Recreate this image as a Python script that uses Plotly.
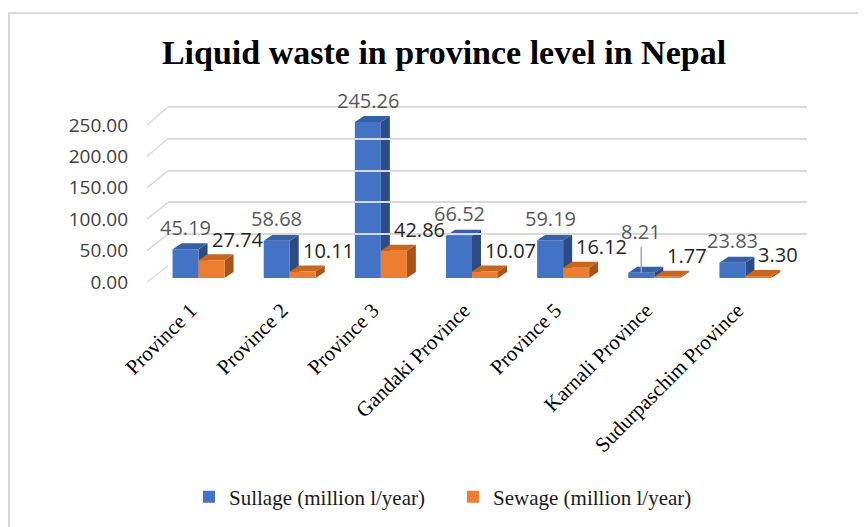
import plotly.graph_objects as go

provinces = ["Province 1", "Province 2", "Province 3", "Gandaki Province",
             "Province 5", "Karnali Province", "Sudurpaschim Province"]
sullage = [45.19, 58.68, 245.26, 66.52, 59.19, 8.21, 23.83]
sewage = [27.74, 10.11, 42.86, 10.07, 16.12, 1.77, 3.30]
y_ticks = [0, 50, 100, 150, 200, 250]

# the page body adds an 8px margin, so target pixels are shifted by OFF
W, H = 866, 527
OFF = 8
L, R, T, B = 153 - OFF, 810 - OFF, 98 - OFF, 284 - OFF
PX_PER_UNIT = 0.636


def px_x(p):
    return (p - OFF - L) / (R - L)


def px_y(p):
    return (B - (p - OFF)) / (B - T)


cat_px = (791 - 153) / len(provinces)
bar_w = 26 / cat_px
depth_x = 9 / cat_px
depth_y = 6 / PX_PER_UNIT

series = [
    ("Sullage (million l/year)", sullage, -bar_w, "#4472C4", "#3660A8", "#2C4C85"),
    ("Sewage (million l/year)", sewage, 0.0, "#ED7D31", "#C8661F", "#A85419"),
]

fig = go.Figure()

for name, values, off, front_c, top_c, side_c in series:
    fx, fy, tx, ty, sx, sy = [], [], [], [], [], []
    for i, v in enumerate(values):
        x0 = i + off
        x1 = x0 + bar_w
        fx += [x0, x1, x1, x0, x0, None]
        fy += [0, 0, v, v, 0, None]
        tx += [x0, x1, x1 + depth_x, x0 + depth_x, x0, None]
        ty += [v, v, v + depth_y, v + depth_y, v, None]
        sx += [x1, x1 + depth_x, x1 + depth_x, x1, x1, None]
        sy += [0, depth_y, v + depth_y, v, 0, None]
    for xs, ys, c in [(sx, sy, side_c), (tx, ty, top_c), (fx, fy, front_c)]:
        fig.add_trace(go.Scatter(x=xs, y=ys, fill="toself", fillcolor=c, mode="lines",
                                 line=dict(width=0, color=c), showlegend=False,
                                 hoverinfo="skip"))

# legend entries
for name, values, off, front_c, top_c, side_c in series:
    fig.add_trace(go.Bar(x=[None], y=[None], name=name, marker_color=front_c))

# back wall gridlines and tick label axis
fig.add_trace(go.Scatter(x=[], y=[], xaxis="x2", yaxis="y2", showlegend=False))
fig.add_trace(go.Scatter(x=[], y=[], xaxis="x3", yaxis="y3", showlegend=False))

annotations = []
for i, v in enumerate(sullage):
    a = dict(x=i - bar_w / 2, y=v, xref="x", yref="y", text=f"{v:.2f}",
             font=dict(family="Open Sans", size=20, color="#595959"))
    if v < 15:
        a.update(showarrow=True, ax=0, ay=-41, arrowhead=0, arrowwidth=1.5,
                 arrowcolor="#A6A6A6", standoff=0)
    else:
        a.update(showarrow=False, yshift=22)
    annotations.append(a)
for i, v in enumerate(sewage):
    annotations.append(dict(x=i + bar_w / 2, y=v, xref="x", yref="y", text=f"{v:.2f}",
                            showarrow=False, xanchor="left", xshift=-2, yshift=21,
                            font=dict(family="Open Sans", size=20, color="#262626")))

shapes = [dict(type="rect", xref="paper", yref="paper", x0=px_x(9), x1=px_x(880),
               y0=px_y(13), y1=px_y(545), line=dict(color="#D9D9D9", width=2),
               layer="below")]
for t in y_ticks:
    shapes.append(dict(type="line", xref="paper", yref="paper",
                       x0=px_x(147), y0=px_y(282 - 0.628 * t),
                       x1=px_x(168), y1=px_y(266 - PX_PER_UNIT * t),
                       line=dict(color="#D9D9D9", width=1.5), layer="below"))

span = 260
label_shift = 8 / cat_px
fig.update_layout(
    template="none",
    width=W, height=H,
    margin=dict(l=L, r=W - R, t=T, b=H - B, autoexpand=False),
    plot_bgcolor="rgba(0,0,0,0)", paper_bgcolor="white",
    title=dict(text="Liquid waste in province level in Nepal", x=(444 - OFF) / W,
               xanchor="center", y=1 - (52 - OFF) / H, yanchor="middle", yref="container",
               font=dict(family="Liberation Serif", size=34, color="black", weight=700)),
    xaxis=dict(domain=[0, px_x(791)], range=[-0.5, len(provinces) - 0.5],
               tickvals=[i - label_shift for i in range(len(provinces))],
               ticktext=provinces, tickangle=-45,
               showgrid=False, zeroline=False, showline=False, ticks="",
               ticklabelstandoff=15, automargin=False,
               tickfont=dict(family="Liberation Serif", size=21, color="black")),
    yaxis=dict(domain=[px_y(278), px_y(278 - span * PX_PER_UNIT)], range=[0, span],
               visible=False, automargin=False),
    xaxis2=dict(domain=[px_x(168), px_x(807)], anchor="y2", range=[0, 1], visible=False,
                automargin=False),
    yaxis2=dict(domain=[px_y(266), px_y(266 - span * PX_PER_UNIT)], anchor="x2",
                range=[0, span], tickvals=y_ticks, showticklabels=False, showgrid=True,
                gridcolor="#D9D9D9", gridwidth=1.5, zeroline=False, showline=False,
                ticks="", automargin=False),
    xaxis3=dict(domain=[0, px_x(791)], anchor="y3", range=[0, 1], visible=False,
                automargin=False),
    yaxis3=dict(domain=[px_y(282), px_y(282 - span * 0.628)], anchor="x3",
                range=[0, span], tickvals=y_ticks, ticktext=[f"{t:.2f}" for t in y_ticks],
                showgrid=False, zeroline=False, showline=False, ticks="",
                ticklabelstandoff=24, automargin=False,
                tickfont=dict(family="Open Sans", size=19, color="#404040")),
    legend=dict(orientation="h", x=px_x(189), xanchor="left", y=px_y(497),
                yanchor="middle", entrywidth=219, bgcolor="rgba(0,0,0,0)",
                font=dict(family="Liberation Serif", size=21, color="#1a1a1a")),
    annotations=annotations,
    shapes=shapes,
    showlegend=True,
)

fig.write_html("out.html")
